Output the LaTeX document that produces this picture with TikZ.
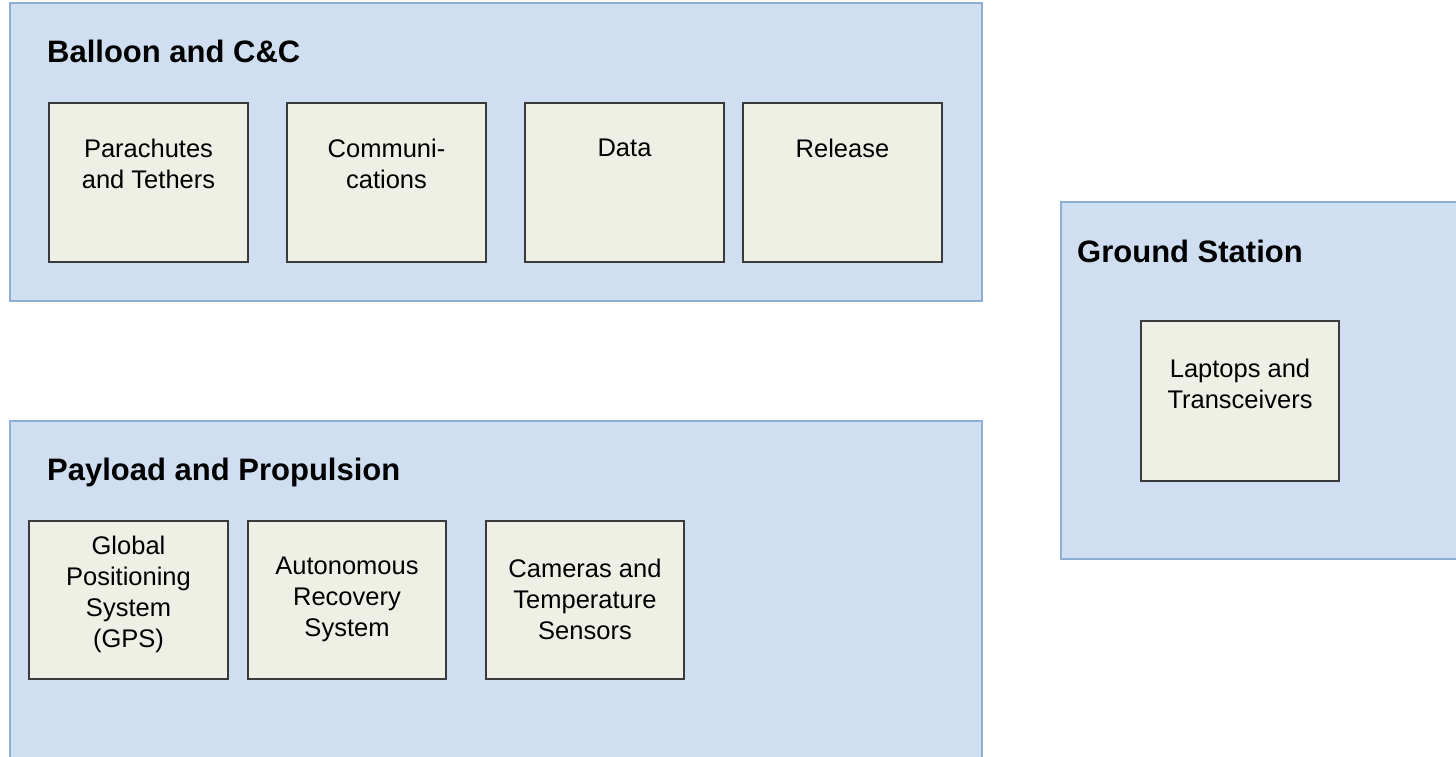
\documentclass[tikz,border=0pt]{standalone}
\usepackage{fontspec}
\setmainfont{Liberation Sans}
\definecolor{grpfill}{HTML}{CFDFF1}
\definecolor{grpdraw}{HTML}{8EAED4}
\definecolor{boxfill}{HTML}{EEF0E5}
\definecolor{boxdraw}{HTML}{3A3A3A}
\tikzset{
  grp/.style={draw=grpdraw, fill=grpfill, line width=1.5pt},
  sub/.style={draw=boxdraw, fill=boxfill, line width=1.8pt},
  grptitle/.style={anchor=base west, inner sep=0pt, font=\fontsize{31}{36}\selectfont\bfseries},
  subtext/.style={inner sep=0pt, align=center, font=\fontsize{25.5}{31}\selectfont}
}
\begin{document}
\begin{tikzpicture}[x=1pt,y=-1pt]
\useasboundingbox (0,0) rectangle (1456,756);
\clip (0,0) rectangle (1456,756);
\fill[white] (0,0) rectangle (1456,756);
% Balloon group
\draw[grp] (10,3) rectangle (982,301);
\node[grptitle] (t1) at (47,62) {Balloon and C\&C};
\draw[sub] (49,103) rectangle (248,262) coordinate (b1);
\node[subtext] (l1) at (148.5,164) {Parachutes\\and Tethers};
\draw[sub] (287,103) rectangle (486,262);
\node[subtext] (l2) at (386.5,164) {Communi-\\cations};
\draw[sub] (525,103) rectangle (724,262);
\node[subtext] (l3) at (624.5,148) {Data};
\draw[sub] (743,103) rectangle (942,262);
\node[subtext] (l4) at (842.5,148) {Release};
% Ground station
\draw[grp] (1061,202) rectangle (1470,559);
\node[grptitle] (t2) at (1077,262) {Ground Station};
\draw[sub] (1141,321) rectangle (1339,481);
\node[subtext] (l5) at (1240,384) {Laptops and\\Transceivers};
% Payload group
\draw[grp] (10,421) rectangle (982,770);
\node[grptitle] (t3) at (47,480) {Payload and Propulsion};
\draw[sub] (29,521) rectangle (228,679);
\node[subtext] (l6) at (128.5,594.5) {Global\\Positioning\\System\\(GPS)};
\draw[sub] (248,521) rectangle (446,679);
\node[subtext] (l7) at (347,599) {Autonomous\\Recovery\\System};
\draw[sub] (486,521) rectangle (684,679);
\node[subtext] (l8) at (585,599) {Cameras and\\Temperature\\Sensors};
\end{tikzpicture}
\end{document}
